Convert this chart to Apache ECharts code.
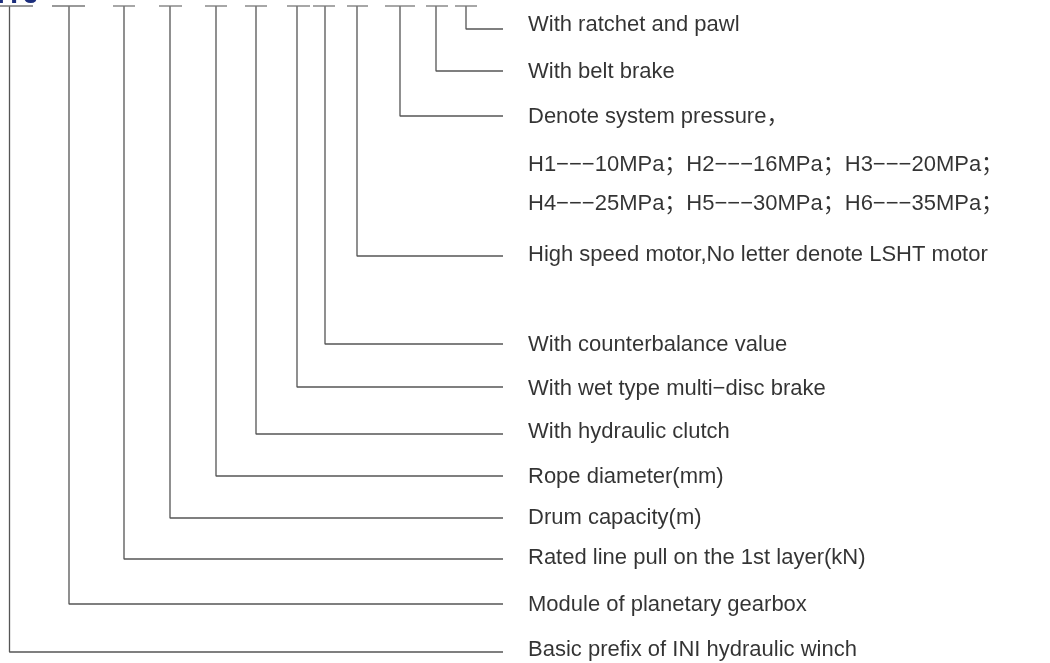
<!DOCTYPE html>
<html lang="en">
<head>
  <meta charset="UTF-8">
  <title>Winch model code</title>
  <script src="https://cdn.jsdelivr.net/npm/echarts@6/dist/echarts.min.js"></script>
  <style>
    html, body { margin: 0; padding: 0; background: #fff; }
  </style>
</head>
<body>
<div id="main" style="width: 1050px;height:663px;"></div>
<script type="text/javascript">
    var myChart = echarts.init(document.getElementById('main'));

    // item texts, top to bottom
    var labels = [
        'With ratchet and pawl',
        'With belt brake',
        'Denote system pressure，',
        'High speed motor,No letter denote LSHT motor',
        'With counterbalance value',
        'With wet type multi\u2212disc brake',
        'With hydraulic clutch',
        'Rope diameter(mm)',
        'Drum capacity(m)',
        'Rated line pull on the 1st layer(kN)',
        'Module of planetary gearbox',
        'Basic prefix of INI hydraulic winch'
    ];
    // where each leader drops from the code row and where it turns right
    var leaderX = [466, 436, 400, 357, 325, 297, 256, 216, 170, 124, 69, 9.5];
    var leaderY = [29, 71, 116, 256, 344, 387, 434, 476, 518, 559, 604, 652];
    var textY = [25, 72, 117, 255, 345, 389, 432, 477, 518, 558, 605, 650];
    // blank slots of the code row
    var slotStart = [0, 52, 113, 159, 205, 245, 287, 313, 347, 385, 426, 455];
    var slotEnd = [33, 85, 135, 182, 227, 267, 310, 335, 368, 415, 448, 477];
    var slotY = 6;
    var leaderEnd = 503;
    var textX = 528;
    // pressure grades, no leader
    var extraText = [
        'H1\u2212\u2212\u221210MPa；H2\u2212\u2212\u221216MPa；H3\u2212\u2212\u221220MPa；',
        'H4\u2212\u2212\u221225MPa；H5\u2212\u2212\u221230MPa；H6\u2212\u2212\u221235MPa；'
    ];
    var extraY = [165, 204];

    var lineColor = '#555';
    var fontFam = '"Liberation Sans", Arial, "Noto Sans CJK SC", sans-serif';

    var series = [];
    labels.forEach(function (name, i) {
        series.push({
            type: 'line',
            data: [[leaderX[i], slotY], [leaderX[i], leaderY[i]], [leaderEnd, leaderY[i]]],
            symbol: 'none',
            lineStyle: { color: lineColor, width: 1.3 },
            silent: true,
            animation: false
        });
    });
    slotStart.forEach(function (s, i) {
        series.push({
            type: 'line',
            data: [[s, slotY], [slotEnd[i], slotY]],
            symbol: 'none',
            lineStyle: { color: '#777', width: 1.3 },
            silent: true,
            animation: false
        });
    });

    var textData = labels.map(function (t, i) {
        return { value: [textX, textY[i]], name: t };
    }).concat(extraText.map(function (t, i) {
        return { value: [textX, extraY[i]], name: t };
    }));

    series.push({
        type: 'scatter',
        data: textData,
        symbolSize: 0,
        silent: true,
        animation: false,
        label: {
            show: true,
            position: 'right',
            distance: 0,
            formatter: function (p) { return p.name; },
            color: '#000',
            fontSize: 22,
            fontFamily: fontFam
        }
    });

    var option = {
        backgroundColor: '#fff',
        grid: { left: 0, right: 0, top: 0, bottom: 0 },
        xAxis: { type: 'value', min: 0, max: 1050, show: false },
        yAxis: { type: 'value', min: 0, max: 663, inverse: true, show: false },
        graphic: [{
            type: 'text',
            x: -3,
            y: 9,
            style: {
                text: 'IYJ',
                fill: '#1b2d7c',
                font: 'bold 28px "Liberation Sans", Arial, sans-serif',
                verticalAlign: 'bottom'
            },
            z: 100
        }],
        series: series
    };

    myChart.setOption(option);
</script>
</body>
</html>
